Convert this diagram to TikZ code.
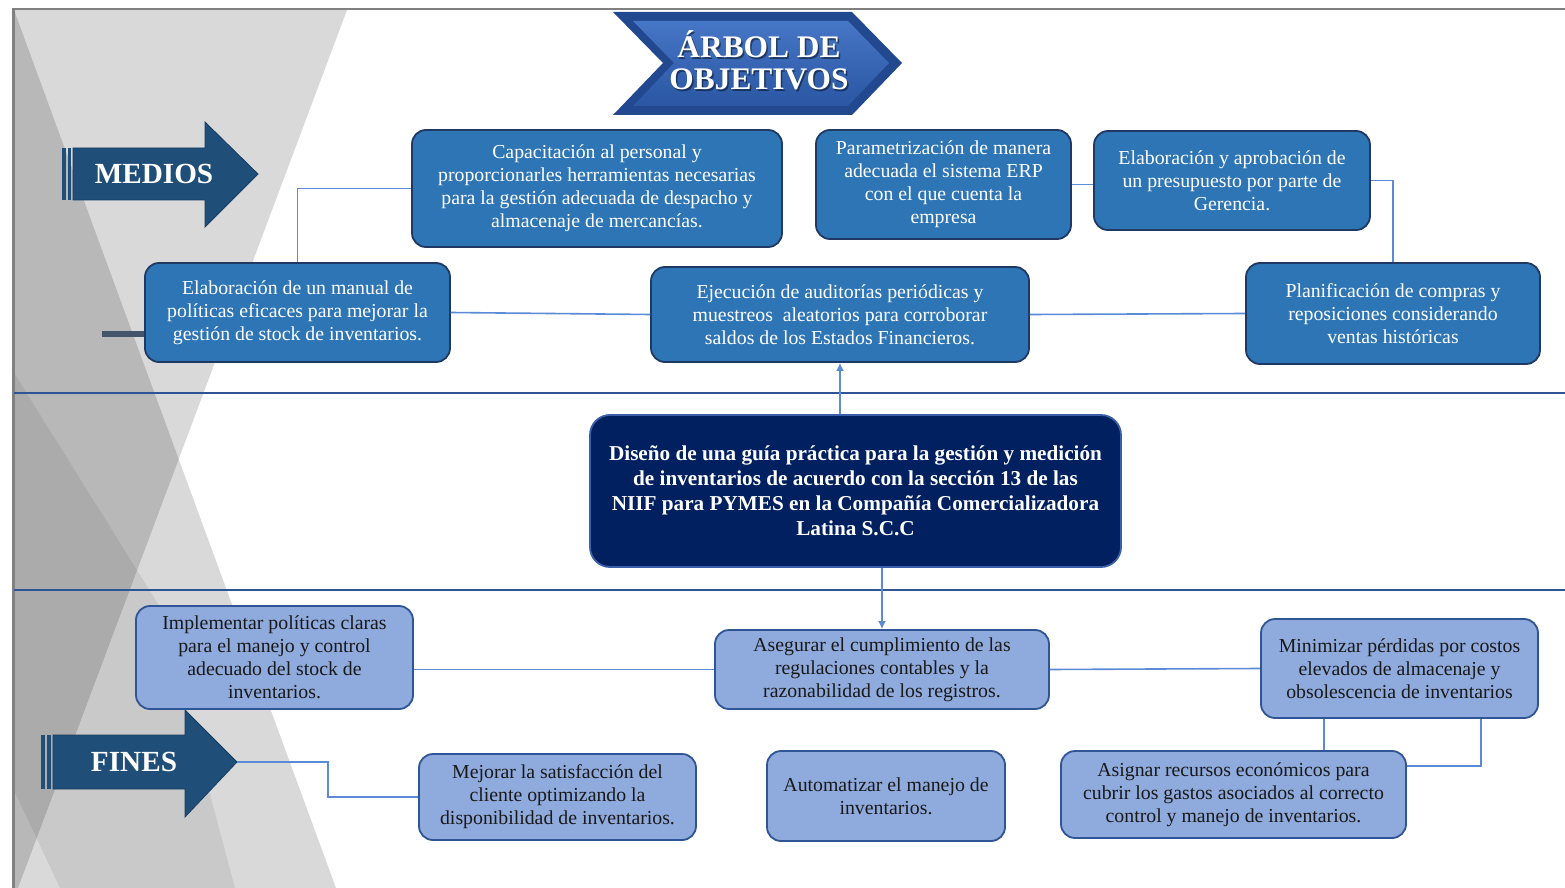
\documentclass[tikz,border=0pt]{standalone}
\usepackage{fontspec}
\setmainfont{Liberation Serif}
\usetikzlibrary{arrows.meta,calc}
\definecolor{medfill}{HTML}{2E75B6}
\definecolor{medline}{HTML}{1F3864}
\definecolor{finfill}{HTML}{8FAADC}
\definecolor{finline}{HTML}{2F5597}
\definecolor{corefill}{HTML}{002060}
\definecolor{coreline}{HTML}{3A5FA8}
\definecolor{linkcol}{HTML}{5B8AD6}
\definecolor{sepcol}{HTML}{2F5496}
\definecolor{tagfill}{HTML}{1F4E79}
\definecolor{stubcol}{HTML}{44546A}
\definecolor{framecol}{HTML}{808080}
\definecolor{bannerdark}{HTML}{22488F}
\definecolor{bannertop}{HTML}{4676C6}
\definecolor{bannerbot}{HTML}{2A56A2}

\begin{document}
\begin{tikzpicture}[x=0.5pt,y=-0.5pt,
  box/.style={draw, line width=0.9pt, rounded corners=7pt, align=center,
    inner sep=0pt, font=\fontsize{9.9}{11.5}\selectfont},
  medio/.style={box, fill=medfill, draw=medline, text=white},
  fin/.style={box, fill=finfill, draw=finline, text=black!90},
  core/.style={box, fill=corefill, draw=coreline, text=white, rounded corners=10pt,
    font=\fontsize{10.6}{12.5}\selectfont\bfseries},
  link/.style={draw=linkcol, line width=0.8pt},
  linkarrow/.style={link, -{Latex[length=4pt,width=4pt]}},
  tag/.style={fill=tagfill, draw=tagfill!80!black, line width=0.4pt},
  tagtext/.style={text=white, font=\fontsize{14.6}{16}\selectfont\bfseries},
  titletext/.style={text=white, align=center, font=\fontsize{15.7}{16}\selectfont\bfseries},
  facet/.style={fill=black, fill opacity=0.15, draw=none},
  softfacet/.style={fill=black, fill opacity=0.07, draw=none},
]
\useasboundingbox (0,0) rectangle (1565,888);
\fill[white] (0,0) rectangle (1565,888);

% faceted grey decoration on the left
\begin{scope}
  \clip (14,10) rectangle (420,888);
  \path[facet] (14,10) -- (347,10) -- (18,888) -- (14,888) -- cycle;
  \path[facet] (14,10) -- (336,888) -- (14,888) -- cycle;
  \path[softfacet] (14,373) -- (160,607) -- (235,888) -- (60,888) -- (14,790) -- cycle;
\end{scope}

% page frame
\draw[framecol, line width=0.8pt] (12,9) -- (1565,9);
\draw[framecol, line width=1.5pt] (13,9) -- (13,888);

% band separators
\draw[sepcol, line width=0.9pt] (14,393) -- (1565,393);
\draw[sepcol, line width=0.9pt] (14,590) -- (1565,590);

% title banner
\fill[bannerdark] (613,12) -- (852,12) -- (902,63) -- (852,115) -- (613,115) -- (663,63) -- cycle;
\shade[top color=bannertop, bottom color=bannerbot]
  (633,21) -- (848,21) -- (889,63) -- (848,106) -- (633,106) -- (674,63) -- cycle;
\node[titletext, text=black, opacity=0.45] at (760.5,62) {ÁRBOL DE\\OBJETIVOS};
\node[titletext] (title) at (759,60.5) {ÁRBOL DE\\OBJETIVOS};

% MEDIOS tag
\fill[tagfill] (62,148) rectangle (65.5,200);
\fill[tagfill] (67.5,148) rectangle (71,200);
\path[tag] (73,148) -- (205,148) -- (205,122) -- (258,174) -- (205,227) -- (205,200) -- (73,200) -- cycle;
\node[tagtext] (medtag) at (154,174) {MEDIOS};

% FINES tag
\fill[tagfill] (41,735) rectangle (45,789);
\fill[tagfill] (47,735) rectangle (51,789);
\path[tag] (53,735) -- (185,735) -- (185,710) -- (237,762) -- (185,817) -- (185,789) -- (53,789) -- cycle;
\node[tagtext] (fintag) at (134,762) {FINES};
\coordinate (finestip) at (237,762);

% means
\node[medio, minimum width=185pt, minimum height=58.5pt] (Mcap) at (597,188.5)
  {Capacitación al personal y\\proporcionarles herramientas necesarias\\para la gestión adecuada de despacho y\\almacenaje de mercancías.};
\node[medio, minimum width=127.5pt, minimum height=54.5pt] (Mparam) at (943.5,184.5)
  {Parametrización de manera\\adecuada el sistema ERP\\con el que cuenta la\\empresa};
\node[medio, minimum width=138pt, minimum height=49.5pt] (Mpres) at (1232,180.5)
  {Elaboración y aprobación de\\un presupuesto por parte de\\Gerencia.};
\node[medio, minimum width=152.5pt, minimum height=49.5pt] (Mmanual) at (297.5,312.5)
  {Elaboración de un manual de\\políticas eficaces para mejorar la\\gestión de stock de inventarios.};
\node[medio, minimum width=189pt, minimum height=47.5pt] (Maud) at (840,314.5)
  {Ejecución de auditorías periódicas y\\muestreos\ \ aleatorios para corroborar\\saldos de los Estados Financieros.};
\node[medio, minimum width=147pt, minimum height=50.5pt] (Mplan) at (1393,313.5)
  {Planificación de compras y\\reposiciones considerando\\ventas históricas};

% central objective
\node[core, minimum width=265.5pt, minimum height=76pt] (core) at (855.5,491)
  {Diseño de una guía práctica para la gestión y medición\\de inventarios de acuerdo con la sección 13 de las\\NIIF para PYMES en la Compañía Comercializadora\\Latina S.C.C};

% ends
\node[fin, minimum width=138.5pt, minimum height=51.5pt] (Fimpl) at (274.5,657.5)
  {Implementar políticas claras\\para el manejo y control\\adecuado del stock de\\inventarios.};
\node[fin, minimum width=167pt, minimum height=39.5pt] (Faseg) at (882,669.5)
  {Asegurar el cumplimiento de las\\regulaciones contables y la\\razonabilidad de los registros.};
\node[fin, minimum width=138.5pt, minimum height=49.5pt] (Fmin) at (1399.5,668.5)
  {Minimizar pérdidas por costos\\elevados de almacenaje y\\obsolescencia de inventarios};
\node[fin, minimum width=138.5pt, minimum height=43pt] (Fmej) at (557.5,797)
  {Mejorar la satisfacción del\\cliente optimizando la\\disponibilidad de inventarios.};
\node[fin, minimum width=119pt, minimum height=45pt] (Fauto) at (886,796)
  {Automatizar el manejo de\\inventarios.};
\node[fin, minimum width=172.5pt, minimum height=43.5pt] (Fasig) at (1233.5,794.5)
  {Asignar recursos económicos para\\cubrir los gastos asociados al correcto\\control y manejo de inventarios.};

% stub beside the manual box
\coordinate (stub) at (102,334);
\draw[stubcol, line width=3pt] (stub) -- (stub -| Mmanual.west);

% links among the means
\draw[link] (Mmanual.north) |- (Mcap.west);
\draw[link] (Mmanual.east) -- (Maud.west);
\draw[link] (Maud.east) -- (Mplan.west);
\draw[link] (Mparam.east) -- (Mparam.east -| Mpres.west);
\draw[link] (Mpres.east) -| (Mplan.north);
\draw[linkarrow] (Maud.south |- core.north) -- (Maud.south);

% links among the ends
\draw[linkarrow] (Faseg.north |- core.south) -- (Faseg.north);
\draw[link] (Fimpl.east |- Faseg.west) -- (Faseg.west);
\draw[link] (Faseg.east) -- (Fmin.west);
\path (Fmin.south west) ++(64,0) coordinate (mleft);
\path (Fmin.south east) ++(-58,0) coordinate (mright);
\path (Fasig.north east) ++(0,16) coordinate (aright);
\draw[link] (mleft) -- (mleft |- Fasig.north);
\draw[link] (mright) |- (aright);
\draw[link] (finestip) -- ++(91,0) |- (Fmej.west);
\end{tikzpicture}
\end{document}
